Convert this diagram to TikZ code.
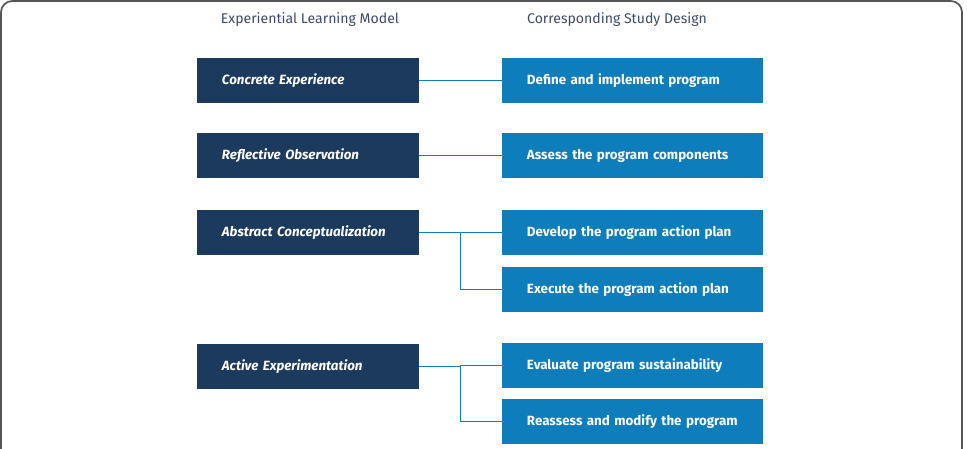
\documentclass[tikz,border=0pt]{standalone}
\usepackage{fontspec}
\setmainfont{Fira Sans}
\usetikzlibrary{positioning, calc}
\definecolor{modelnavy}{RGB}{27,58,94}
\definecolor{designblue}{RGB}{13,125,187}
\definecolor{headgray}{RGB}{62,74,104}
\definecolor{framegray}{RGB}{85,85,85}
\begin{document}
\begin{tikzpicture}[x=0.025cm, y=-0.025cm,
    modelbox/.style={fill=modelnavy, text=white, minimum height=1.125cm, inner ysep=0pt,
      inner xsep=0.625cm, text width=4.3cm, align=left, font=\fontsize{9.5}{11}\selectfont\bfseries\itshape},
    designbox/.style={fill=designblue, text=white, minimum height=1.125cm, inner ysep=0pt,
      inner xsep=0.625cm, text width=5.275cm, align=left, font=\fontsize{9.5}{11}\selectfont\bfseries},
    heading/.style={text=headgray, font=\fontsize{10}{12}\selectfont},
    link/.style={draw=designblue, line width=0.9pt}]
    \useasboundingbox (0,0) rectangle (967,448);
    \clip (0,0) rectangle (967,448);
    % frame
    \draw[framegray, line width=1.2pt, rounded corners=8pt] (1,1) rectangle (962,480);
    % headings
    \node[heading] (hmodel) at (310,20) {Experiential Learning Model};
    \node[heading] (hdesign) at (617,20) {Corresponding Study Design};
    % left column
    \node[modelbox] (ce) at (308,80.5) {Concrete Experience};
    \node[modelbox] (ro) at (308,155.5) {Reflective Observation};
    \node[modelbox] (ac) at (308,232.5) {Abstract Conceptualization};
    \node[modelbox] (ae) at (308,366.5) {Active Experimentation};
    % right column
    \node[designbox] (d1) at (632.5,80.5) {Define and implement program};
    \node[designbox] (d2) at (632.5,155.5) {Assess the program components};
    \node[designbox] (d3) at (632.5,232.5) {Develop the program action plan};
    \node[designbox] (d4) at (632.5,289.5) {Execute the program action plan};
    \node[designbox] (d5) at (632.5,365.5) {Evaluate program sustainability};
    \node[designbox] (d6) at (632.5,421.5) {Reassess and modify the program};
    % connectors
    \draw[link] (ce.east) -- (d1.west);
    \draw[link] (ro.east) -- (d2.west);
    \draw[link] (ac.east) -- (d3.west);
    \coordinate (b1) at ($(ac.east)!0.5!(d3.west)$);
    \draw[link] (b1) |- (d4.west);
    \coordinate (b2) at (b1 |- ae.east);
    \draw[link] (ae.east) -- (b2) -- (b2 |- d5.west) -- (d5.west);
    \draw[link] (b2) |- (d6.west);
\end{tikzpicture}
\end{document}
